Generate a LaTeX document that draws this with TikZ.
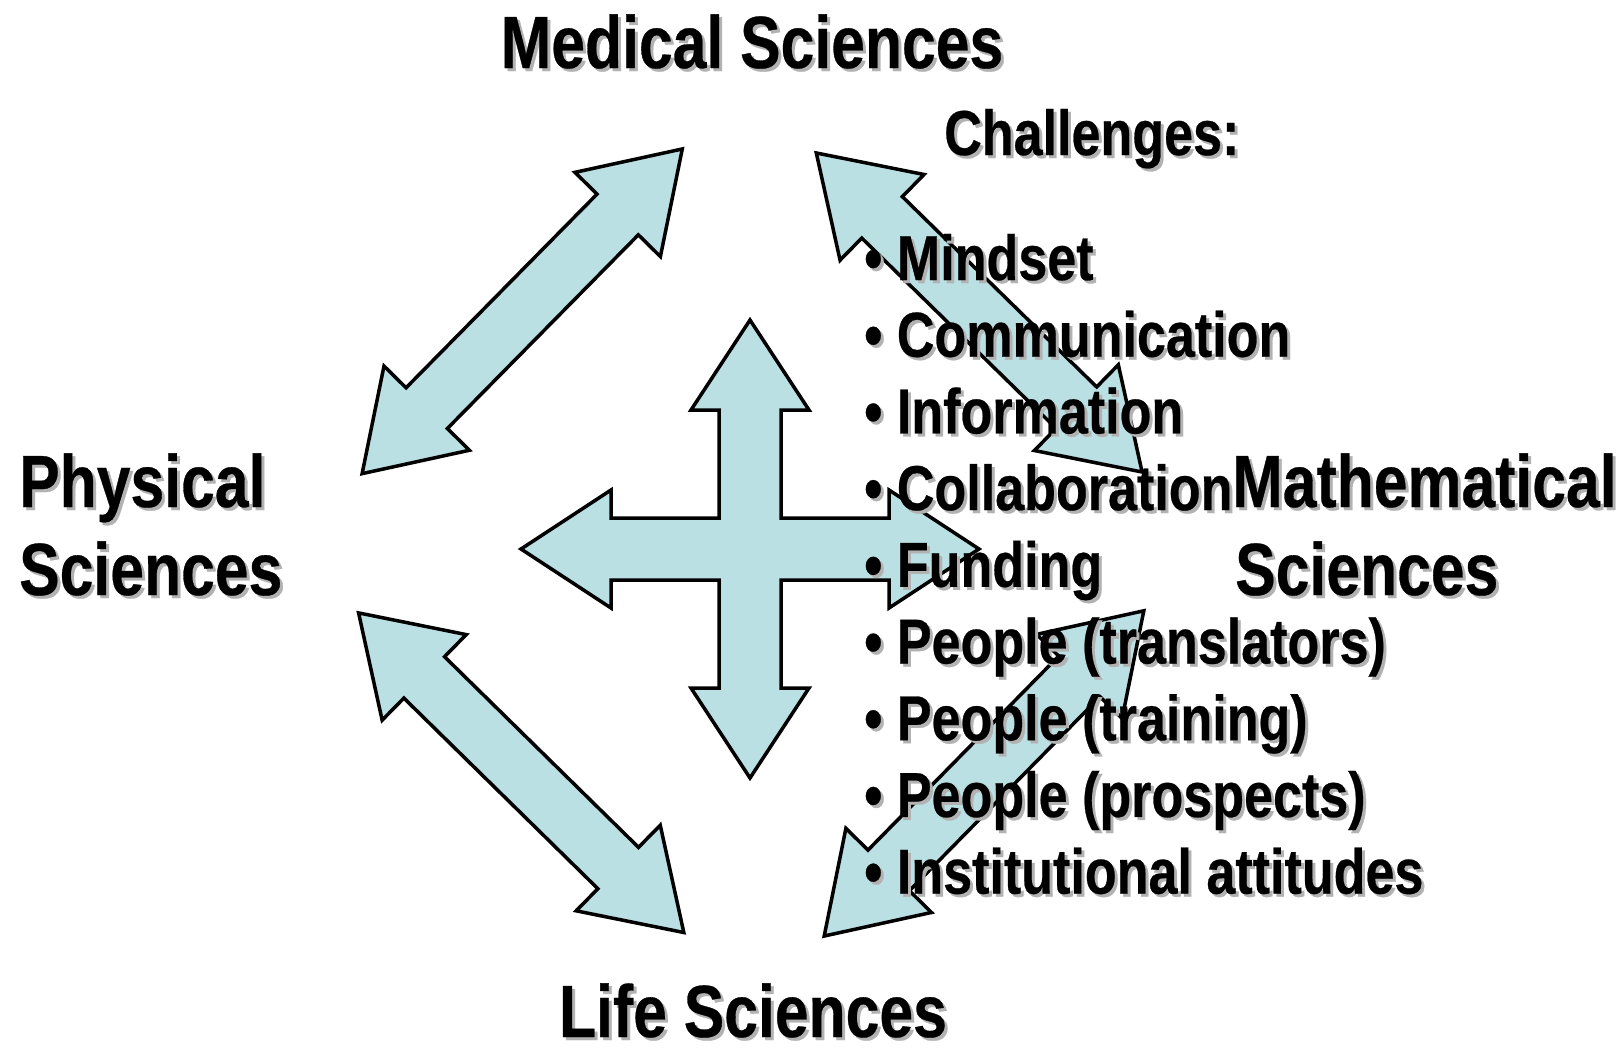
\documentclass[tikz,border=0pt]{standalone}
\usepackage{fontspec}
\newfontfamily\nar{Liberation Sans Bold}[FakeStretch=0.82,FakeBold=0.4]
\definecolor{arrowfill}{RGB}{187,224,227}
\definecolor{shadowgray}{RGB}{178,178,178}
\newcommand\shtxt[1]{\makebox[0pt][l]{\hspace{3pt}\raisebox{-3pt}{\color{shadowgray}#1}}#1}
\newcommand\dblarrow[3]{%
  \draw[blockarrow, shift={(#1,#2)}, rotate=#3]
    (-228,0) -- (-136,60) -- (-136,29) -- (136,29) -- (136,60) -- (228,0)
    -- (136,-60) -- (136,-29) -- (-136,-29) -- (-136,-60) -- cycle;}
\begin{document}
\begin{tikzpicture}[x=1pt,y=-1pt,
  blockarrow/.style={draw=black, fill=arrowfill, line width=3.5pt, line join=miter},
  title/.style={inner sep=0pt, font=\nar\fontsize{74}{88}\selectfont},
  item/.style={inner sep=0pt, anchor=base west, font=\nar\fontsize{63.5}{76}\selectfont}]
\fill[white] (0,0) rectangle (1619,1047);
\useasboundingbox (0,0) rectangle (1619,1047);

% diagonal double arrows
\dblarrow{522.2}{311.3}{45.4}
\dblarrow{979.2}{312.5}{-44.4}
\dblarrow{521.2}{772.7}{-44.5}
\dblarrow{984}{773.4}{45.5}

% central four-way arrow
\draw[blockarrow, shift={(750,549)}]
  (0,-229) -- (59,-139) -- (31,-139) -- (31,-31) -- (139,-31) -- (139,-59)
  -- (229,0) -- (139,59) -- (139,31) -- (31,31) -- (31,139) -- (59,139)
  -- (0,229) -- (-59,139) -- (-31,139) -- (-31,31) -- (-139,31) -- (-139,59)
  -- (-229,0) -- (-139,-59) -- (-139,-31) -- (-31,-31) -- (-31,-139) -- (-59,-139)
  -- cycle;

% titles
\node[title, anchor=base] (med) at (752,68) {\shtxt{Medical Sciences}};
\node[title, anchor=base] (life) at (753,1037) {\raisebox{0pt}[\height][0pt]{\shtxt{Life Sciences}}};
\node[title, anchor=base west] (phys1) at (19,507) {\shtxt{Physical}};
\node[title, anchor=base west] (phys2) at (19,595) {\shtxt{Sciences}};
\node[title, anchor=base west] (math1) at (1232,507) {\shtxt{Mathematical}};
\node[title, anchor=base west] (math2) at (1235,595) {\shtxt{Sciences}};

% challenges
\node[item] (chal) at (944,155) {\shtxt{Challenges:}};
\foreach \t [count=\i] in {Mindset, Communication, Information, Collaboration, Funding,
  {People (translators)}, {People (training)}, {People (prospects)}, {Institutional attitudes}}
  \node[item] (b\i) at (864,{280+(\i-1)*76.7}) {\shtxt{• \t}};
\end{tikzpicture}
\end{document}
